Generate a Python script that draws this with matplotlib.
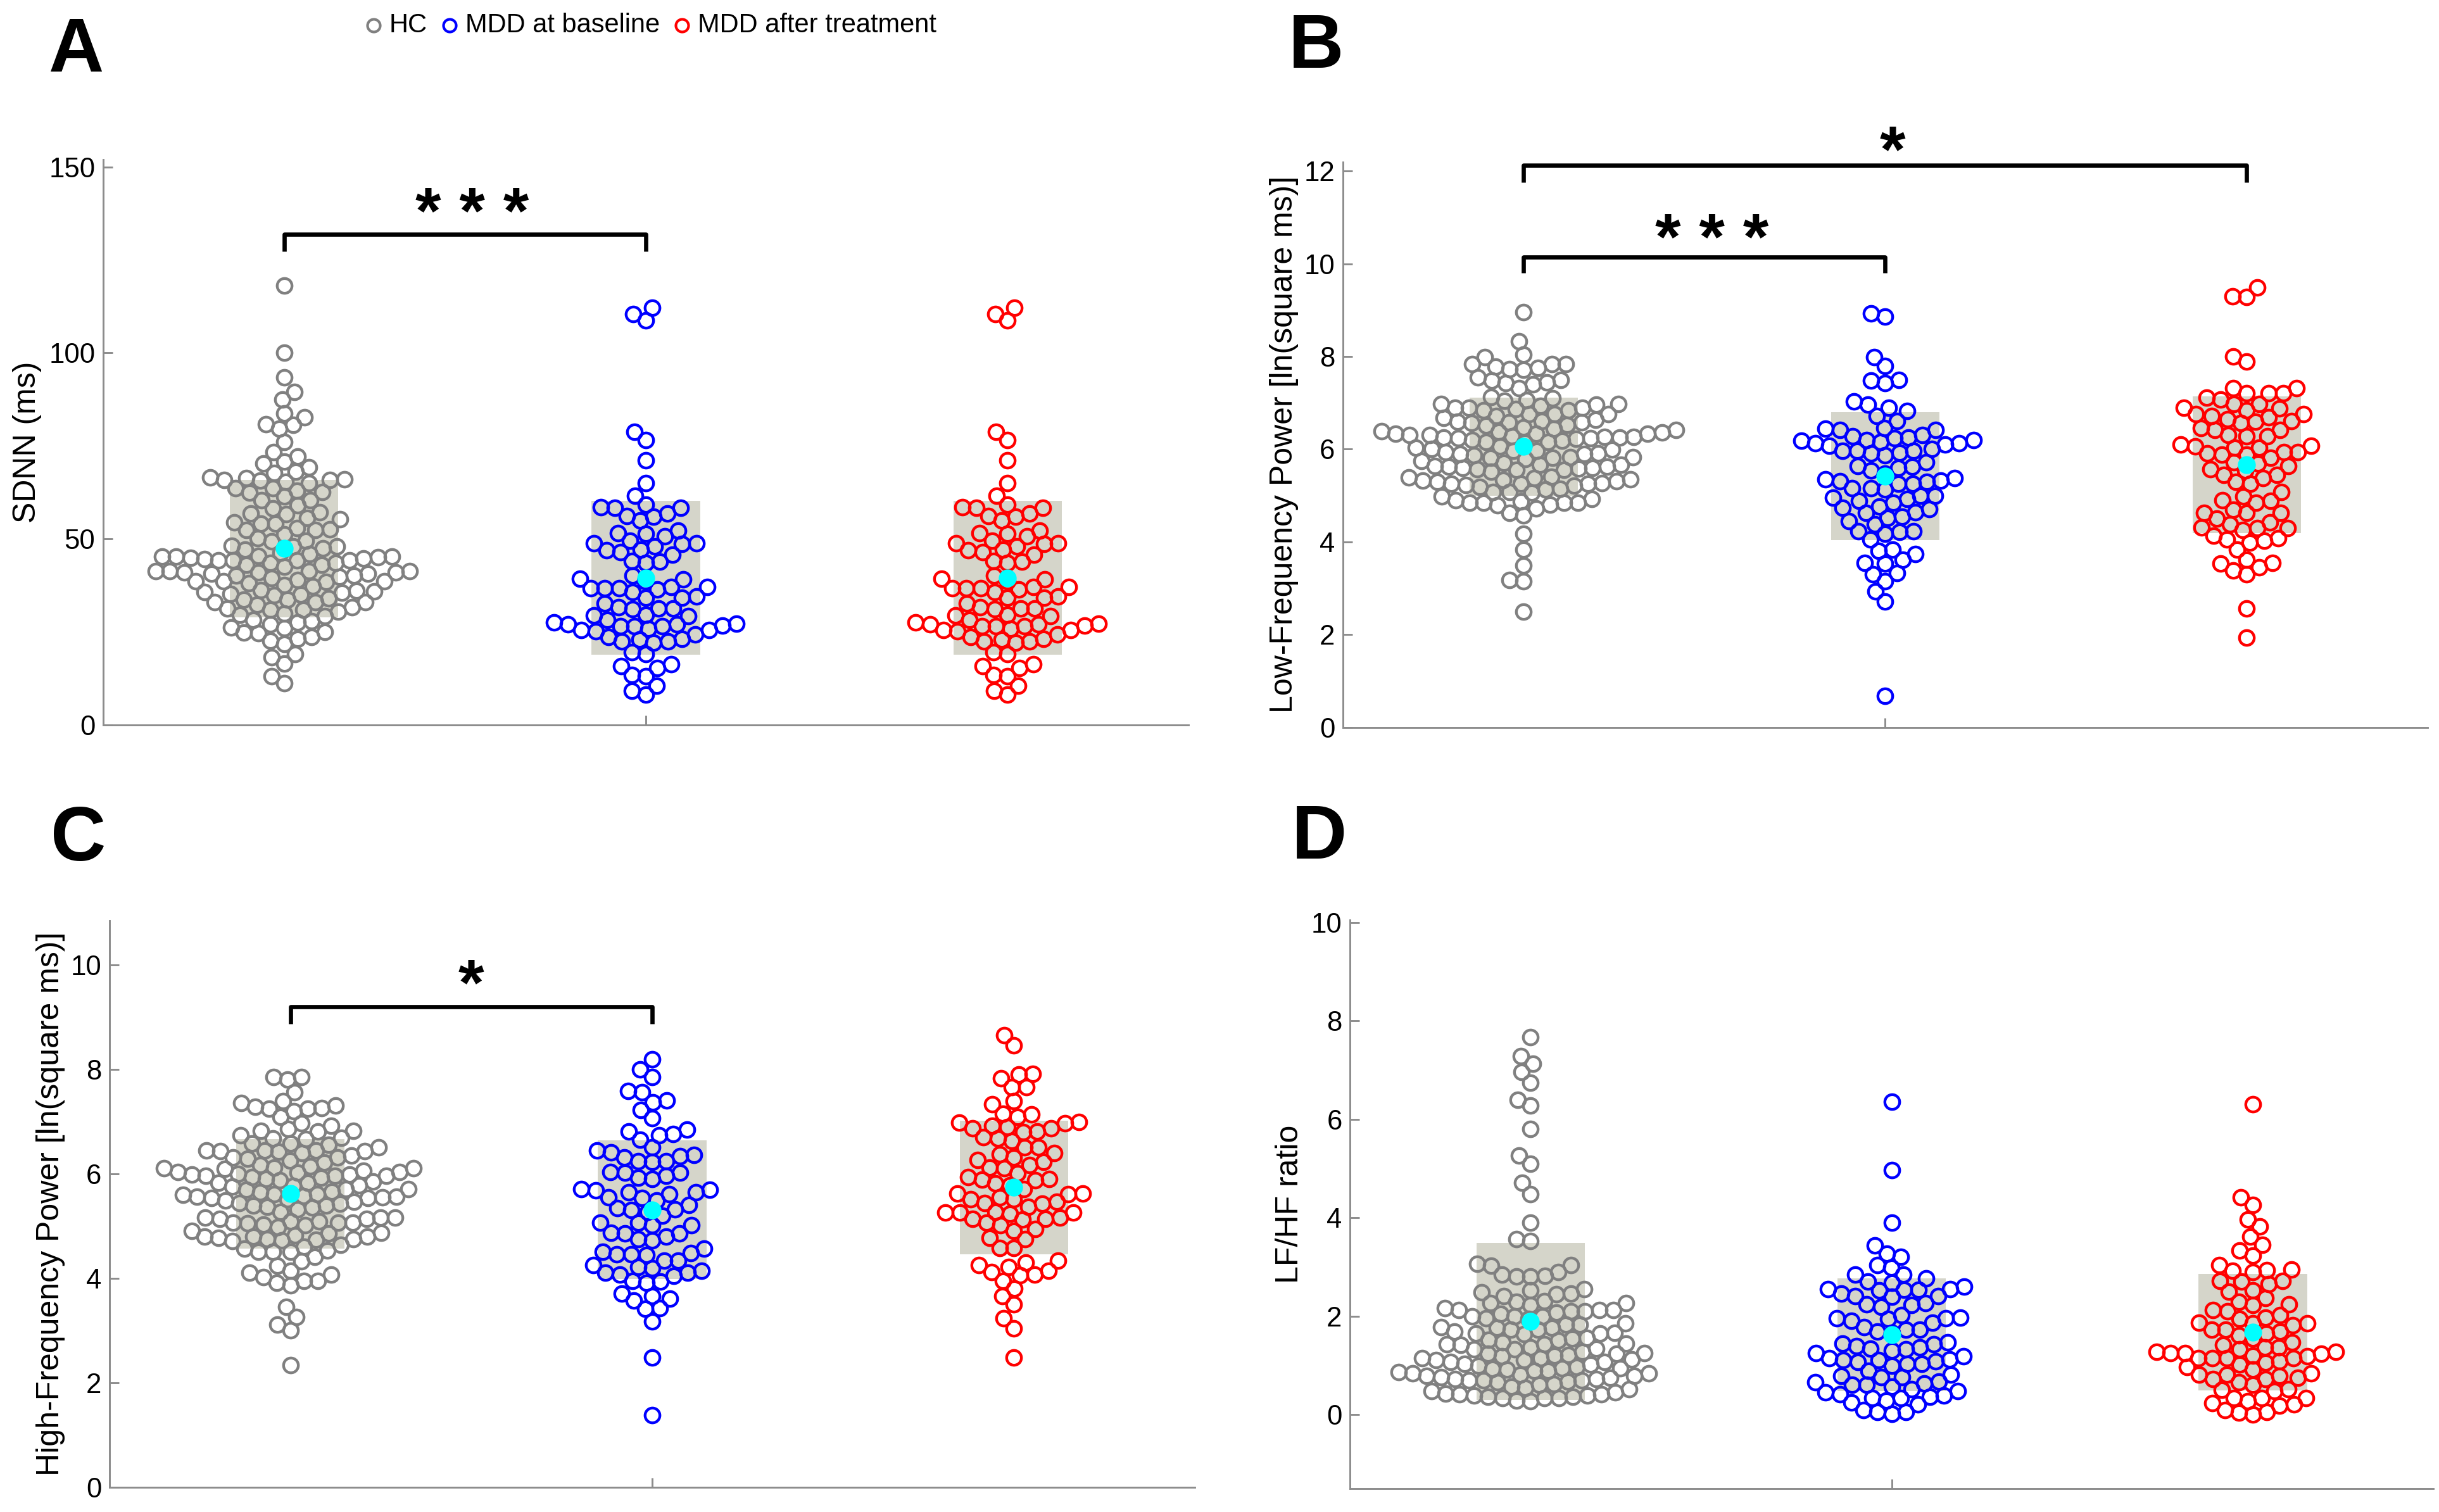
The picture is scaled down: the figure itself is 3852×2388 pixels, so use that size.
import numpy as np
import matplotlib
matplotlib.use("Agg")
import matplotlib.pyplot as plt
from matplotlib.lines import Line2D

plt.rcParams['font.family'] = ['Liberation Sans', 'DejaVu Sans']

# ---------------- data ----------------
group_names = ['HC', 'MDD at baseline', 'MDD after treatment']
group_colors = ['#808080', '#0000ff', '#ff0000']

sdnn_hc = [118.2, 100, 93.5, 89.5, 87.5, 83.7, 82.8, 80.9, 80.6, 79.6, 76.0, 73.3, 72.2, 70.8,
           70.3, 69.2, 68.1, 67.8, 66.5, 66.3, 66.1, 65.9, 65.9, 65.7, 65.4, 65.1, 63.7, 63.7,
           62.9, 62.7, 62.5, 61.4, 60.5, 60.5, 59.0, 58.2, 57.2, 56.9, 56.7, 55.6, 55.3, 54.5,
           54.2, 54.2, 52.9, 52.6, 52.5, 52.5, 51.2, 50.2, 49.6, 49.3, 48.2, 48.0, 48.0, 47.5,
           47.1, 46.3, 45.9, 45.5, 45.3, 45.3, 45.3, 45.1, 44.9, 44.7, 44.6, 44.3, 44.3, 44.3,
           44.3, 43.6, 43.5, 43.1, 43.1, 42.6, 41.4, 41.4, 41.4, 41.3, 41.0, 41.0, 41.0, 40.6,
           40.6, 40.2, 40.2, 39.8, 39.5, 39.0, 38.7, 38.7, 38.6, 38.4, 38.2, 37.7, 37.3, 36.3,
           36.1, 35.9, 35.7, 35.5, 35.3, 35.1, 34.9, 34.1, 33.7, 33.7, 33.0, 33.0, 33.0, 32.4,
           31.6, 31.4, 31.0, 31.0, 30.4, 30.0, 29.6, 29.2, 28.3, 27.9, 27.5, 27.1, 26.3, 26.1,
           25.1, 24.8, 24.7, 23.7, 23.2, 22.6, 21.8, 19.0, 18.3, 16.5, 13.1, 11.2]
sdnn_mdd_base = [112.1, 110.5, 108.7, 78.8, 76.6, 71.1, 65.1, 61.7, 59.2, 58.6, 58.3, 58.3, 56.9,
                 56.1, 56.0, 54.9, 52.3, 51.6, 51.4, 50.7, 49.6, 48.8, 48.8, 48.6, 48.0, 47.1,
                 46.9, 46.5, 45.8, 44.1, 43.9, 43.5, 40.2, 39.4, 39.2, 38.6, 37.1, 37.1, 36.8,
                 36.8, 36.7, 36.5, 35.7, 34.6, 34.3, 34.2, 32.6, 31.6, 31.4, 31.4, 31.2, 29.7,
                 29.4, 29.2, 28.3, 27.5, 27.3, 27.1, 27.0, 26.7, 26.6, 26.5, 26.5, 25.9, 25.6,
                 25.5, 25.2, 24.3, 23.7, 23.2, 22.9, 22.4, 22.4, 22.2, 19.6, 19.0, 16.3, 15.9,
                 15.3, 13.4, 13.1, 10.6, 9.2, 8.1]
# panel A shows the same SDNN distribution after treatment
sdnn_mdd_after = [112.1, 110.5, 108.7, 78.8, 76.6, 71.1, 65.1, 61.7, 59.2, 58.6, 58.3, 58.3, 56.9,
                  56.1, 56.0, 54.9, 52.3, 51.6, 51.4, 50.7, 49.6, 48.8, 48.8, 48.6, 48.0, 47.1,
                  46.9, 46.5, 45.8, 44.1, 43.9, 43.5, 40.2, 39.4, 39.2, 38.6, 37.1, 37.1, 36.8,
                  36.8, 36.7, 36.5, 35.7, 34.6, 34.3, 34.2, 32.6, 31.6, 31.4, 31.4, 31.2, 29.7,
                  29.4, 29.2, 28.3, 27.5, 27.3, 27.1, 27.0, 26.7, 26.6, 26.5, 26.5, 25.9, 25.6,
                  25.5, 25.2, 24.3, 23.7, 23.2, 22.9, 22.4, 22.4, 22.2, 19.6, 19.0, 16.3, 15.9,
                  15.3, 13.4, 13.1, 10.6, 9.2, 8.1]

lf_hc = [8.95, 8.33, 8.04, 7.98, 7.83, 7.83, 7.83, 7.78, 7.76, 7.73, 7.71, 7.55, 7.49, 7.48, 7.44,
         7.40, 7.42, 7.32, 7.13, 7.10, 7.06, 7.05, 6.98, 6.98, 6.96, 6.93, 6.90, 6.89, 6.89, 6.86,
         6.84, 6.84, 6.76, 6.75, 6.75, 6.72, 6.67, 6.64, 6.61, 6.59, 6.58, 6.58, 6.56, 6.53, 6.51,
         6.47, 6.44, 6.42, 6.39, 6.37, 6.36, 6.34, 6.34, 6.33, 6.31, 6.31, 6.28, 6.26, 6.26, 6.25,
         6.25, 6.24, 6.24, 6.22, 6.20, 6.18, 6.16, 6.16, 6.14, 6.06, 6.03, 6.00, 5.99, 5.97, 5.96,
         5.94, 5.91, 5.90, 5.89, 5.87, 5.83, 5.83, 5.82, 5.81, 5.79, 5.75, 5.71, 5.67, 5.66, 5.63,
         5.62, 5.62, 5.59, 5.59, 5.58, 5.57, 5.55, 5.55, 5.51, 5.41, 5.39, 5.38, 5.35, 5.34, 5.32,
         5.31, 5.29, 5.27, 5.26, 5.25, 5.25, 5.23, 5.21, 5.18, 5.15, 5.13, 5.08, 5.07, 5.06, 4.98,
         4.92, 4.90, 4.87, 4.85, 4.85, 4.85, 4.84, 4.81, 4.79, 4.72, 4.62, 4.57, 4.17, 3.83, 3.49,
         3.18, 3.15, 2.50]
lf_mdd_base = [8.93, 8.86, 7.98, 7.79, 7.48, 7.49, 7.43, 6.96, 7.03, 6.89, 6.82, 6.72, 6.61, 6.44,
               6.46, 6.42, 6.42, 6.30, 6.28, 6.25, 6.24, 6.20, 6.19, 6.18, 6.16, 6.13, 6.13, 6.10,
               6.08, 6.00, 5.97, 5.96, 5.96, 5.92, 5.91, 5.87, 5.72, 5.63, 5.62, 5.60, 5.54, 5.47,
               5.38, 5.35, 5.32, 5.31, 5.29, 5.26, 5.25, 5.16, 5.16, 5.13, 5.00, 5.00, 4.95, 4.92,
               4.89, 4.84, 4.76, 4.73, 4.71, 4.64, 4.62, 4.55, 4.51, 4.45, 4.38, 4.23, 4.23, 4.21,
               4.17, 4.05, 3.83, 3.80, 3.74, 3.61, 3.55, 3.53, 3.33, 3.30, 3.15, 2.93, 2.71, 0.68]
lf_mdd_after = [9.49, 9.28, 9.30, 8.00, 7.89, 7.32, 7.31, 7.21, 7.21, 7.21, 7.11, 7.07, 6.98, 6.98,
                6.90, 6.88, 6.84, 6.76, 6.75, 6.72, 6.69, 6.65, 6.60, 6.59, 6.56, 6.46, 6.42, 6.42,
                6.31, 6.28, 6.28, 6.10, 6.08, 6.06, 6.03, 6.03, 5.94, 5.94, 5.91, 5.88, 5.88, 5.82,
                5.72, 5.69, 5.63, 5.57, 5.54, 5.44, 5.44, 5.38, 5.29, 5.25, 5.08, 4.98, 4.90, 4.88,
                4.85, 4.70, 4.63, 4.62, 4.62, 4.50, 4.42, 4.38, 4.31, 4.30, 4.30, 4.26, 4.14, 4.08,
                4.05, 4.02, 3.99, 3.84, 3.61, 3.53, 3.55, 3.45, 3.38, 3.30, 2.56, 1.94]

hf_hc = [7.85, 7.80, 7.85, 7.56, 7.39, 7.35, 7.28, 7.26, 7.31, 7.24, 7.24, 7.20, 7.08, 6.96, 6.92,
         6.85, 6.82, 6.82, 6.81, 6.74, 6.69, 6.67, 6.66, 6.58, 6.58, 6.55, 6.51, 6.44, 6.44, 6.44,
         6.43, 6.43, 6.42, 6.40, 6.35, 6.31, 6.31, 6.28, 6.25, 6.21, 6.17, 6.14, 6.12, 6.10, 6.10,
         6.09, 6.05, 6.03, 6.03, 6.02, 6.00, 5.98, 5.98, 5.96, 5.96, 5.96, 5.94, 5.92, 5.90, 5.87,
         5.85, 5.83, 5.83, 5.78, 5.76, 5.75, 5.71, 5.71, 5.69, 5.66, 5.64, 5.61, 5.61, 5.60, 5.57,
         5.56, 5.56, 5.55, 5.54, 5.53, 5.51, 5.49, 5.46, 5.44, 5.42, 5.39, 5.39, 5.37, 5.35, 5.32,
         5.27, 5.16, 5.16, 5.16, 5.13, 5.13, 5.08, 5.08, 5.06, 5.06, 5.06, 5.05, 5.03, 5.01, 4.98,
         4.91, 4.87, 4.86, 4.82, 4.80, 4.79, 4.79, 4.77, 4.75, 4.75, 4.73, 4.72, 4.71, 4.64, 4.60,
         4.57, 4.53, 4.51, 4.50, 4.50, 4.41, 4.32, 4.24, 4.14, 4.07, 4.10, 4.02, 3.95, 3.95, 3.91,
         3.86, 3.45, 3.25, 3.11, 3.00, 2.33]
hf_mdd_base = [8.19, 8.00, 7.85, 7.56, 7.58, 7.40, 7.37, 7.22, 7.06, 6.84, 6.81, 6.76, 6.74, 6.65,
               6.50, 6.44, 6.41, 6.36, 6.33, 6.31, 6.24, 6.24, 6.22, 6.03, 6.02, 6.02, 5.96, 5.92,
               5.90, 5.71, 5.69, 5.68, 5.64, 5.64, 5.61, 5.55, 5.54, 5.49, 5.40, 5.34, 5.32, 5.30,
               5.27, 5.20, 5.06, 5.06, 5.01, 5.01, 4.87, 4.86, 4.86, 4.80, 4.75, 4.72, 4.57, 4.51,
               4.48, 4.45, 4.45, 4.44, 4.34, 4.34, 4.25, 4.21, 4.19, 4.14, 4.10, 4.10, 4.07, 4.04,
               3.95, 3.93, 3.91, 3.71, 3.66, 3.61, 3.57, 3.42, 3.41, 3.17, 2.48, 1.38]
hf_mdd_after = [8.65, 8.45, 7.91, 7.90, 7.83, 7.66, 7.66, 7.39, 7.33, 7.15, 7.13, 7.08, 6.99, 6.98,
                6.96, 6.92, 6.89, 6.87, 6.87, 6.81, 6.79, 6.70, 6.67, 6.63, 6.51, 6.50, 6.40, 6.37,
                6.31, 6.26, 6.22, 6.16, 6.12, 6.10, 6.01, 5.94, 5.90, 5.88, 5.87, 5.81, 5.78, 5.71,
                5.62, 5.62, 5.61, 5.55, 5.51, 5.51, 5.46, 5.44, 5.42, 5.37, 5.27, 5.25, 5.25, 5.25,
                5.23, 5.16, 5.14, 5.13, 5.12, 5.06, 5.01, 4.94, 4.91, 4.77, 4.75, 4.58, 4.58, 4.34,
                4.30, 4.25, 4.21, 4.14, 4.12, 4.07, 4.05, 3.95, 3.80, 3.66, 3.50, 3.23, 3.04, 2.48]

ratio_hc = [7.67, 7.29, 7.13, 6.96, 6.74, 6.40, 6.28, 5.81, 5.26, 5.09, 4.71, 4.48, 3.90, 3.52, 3.56,
            3.04, 3.03, 3.06, 2.90, 2.82, 2.81, 2.81, 2.84, 2.55, 2.52, 2.48, 2.45, 2.41, 2.46, 2.30,
            2.29, 2.26, 2.26, 2.23, 2.16, 2.12, 2.12, 2.12, 2.10, 2.10, 2.07, 2.05, 2.00, 2.00, 2.00,
            1.95, 1.94, 1.85, 1.83, 1.83, 1.78, 1.76, 1.76, 1.72, 1.72, 1.68, 1.66, 1.65, 1.65, 1.63,
            1.56, 1.54, 1.52, 1.50, 1.47, 1.44, 1.43, 1.43, 1.42, 1.37, 1.34, 1.32, 1.32, 1.27, 1.25,
            1.23, 1.23, 1.21, 1.20, 1.18, 1.15, 1.14, 1.12, 1.10, 1.10, 1.07, 1.07, 1.03, 1.01, 0.99,
            0.96, 0.94, 0.94, 0.92, 0.91, 0.89, 0.89, 0.86, 0.83, 0.83, 0.81, 0.79, 0.78, 0.76, 0.74,
            0.72, 0.72, 0.70, 0.69, 0.69, 0.67, 0.65, 0.62, 0.60, 0.57, 0.54, 0.52, 0.47, 0.45, 0.43,
            0.41, 0.41, 0.38, 0.38, 0.36, 0.36, 0.34, 0.34, 0.33, 0.28, 0.27]
ratio_mdd_base = [6.36, 4.97, 3.90, 3.43, 3.27, 3.21, 3.04, 2.99, 2.84, 2.84, 2.77, 2.70, 2.68, 2.60,
                  2.55, 2.55, 2.53, 2.53, 2.52, 2.46, 2.41, 2.41, 2.39, 2.26, 2.24, 2.23, 2.19, 2.02,
                  1.97, 1.95, 1.95, 1.94, 1.90, 1.87, 1.78, 1.73, 1.72, 1.68, 1.66, 1.47, 1.44, 1.43,
                  1.39, 1.36, 1.32, 1.34, 1.30, 1.25, 1.18, 1.14, 1.12, 1.10, 1.10, 1.08, 1.07, 1.03,
                  1.03, 0.99, 0.89, 0.81, 0.79, 0.76, 0.76, 0.67, 0.65, 0.63, 0.60, 0.60, 0.56, 0.52,
                  0.47, 0.45, 0.41, 0.39, 0.36, 0.34, 0.33, 0.28, 0.25, 0.20, 0.09, 0.05, 0.05, 0.01]
ratio_mdd_after = [6.31, 4.42, 4.26, 3.97, 3.82, 3.61, 3.45, 3.33, 3.23, 3.04, 2.95, 2.92, 2.94, 2.90,
                   2.72, 2.70, 2.72, 2.65, 2.52, 2.50, 2.37, 2.29, 2.24, 2.23, 2.12, 2.10, 2.02, 1.97,
                   1.94, 1.87, 1.85, 1.85, 1.81, 1.73, 1.72, 1.68, 1.65, 1.61, 1.54, 1.47, 1.42, 1.37,
                   1.36, 1.32, 1.28, 1.27, 1.25, 1.25, 1.23, 1.20, 1.18, 1.15, 1.15, 1.15, 1.14, 1.08,
                   1.05, 1.01, 0.96, 0.91, 0.83, 0.81, 0.81, 0.79, 0.74, 0.72, 0.72, 0.65, 0.60, 0.52,
                   0.50, 0.47, 0.34, 0.34, 0.34, 0.27, 0.23, 0.20, 0.18, 0.09, 0.05, 0.04, 0.00]

panel_letters = ['A', 'B', 'C', 'D']
panel_ylabels = ['SDNN (ms)', 'Low-Frequency Power [ln(square ms)]',
                 'High-Frequency Power [ln(square ms)]', 'LF/HF ratio']
panel_data = [[sdnn_hc, sdnn_mdd_base, sdnn_mdd_after],
              [lf_hc, lf_mdd_base, lf_mdd_after],
              [hf_hc, hf_mdd_base, hf_mdd_after],
              [ratio_hc, ratio_mdd_base, ratio_mdd_after]]
panel_yticks = [[0, 50, 100, 150], [0, 2, 4, 6, 8, 10, 12], [0, 2, 4, 6, 8, 10], [0, 2, 4, 6, 8, 10]]
# significance comparisons: (group a, group b, stars)
panel_sig = [[(1, 2, '* * *')],
             [(1, 3, '*'), (1, 2, '* * *')],
             [(1, 2, '*')],
             []]

# ---------------- layout / style ----------------
DPI = 300
fig = plt.figure(figsize=(3852 / DPI, 2388 / DPI), dpi=DPI)

rects = [[0.0423, 0.5205, 0.4450, 0.3740],
         [0.5506, 0.5190, 0.4447, 0.3740],
         [0.0449, 0.0165, 0.4450, 0.3745],
         [0.5535, 0.0157, 0.4442, 0.3758]]
ylims = [(0, 152), (0, 12.2), (0, 10.84), (-1.5, 10.05)]
label_x = [-0.070, -0.054, -0.054, -0.0555]
letter_pos = [(0.020, 0.9527), (0.5283, 0.955), (0.0208, 0.431), (0.5296, 0.432)]
# bracket heights (y of bar, y of leg ends, y of star centre, x of star centre)
sig_geom = [[(131.9, 127.3, 141.0, 1.52)],
            [(12.12, 11.76, 12.70, 2.02), (10.15, 9.80, 10.80, 1.52)],
            [(9.20, 8.87, 9.86, 1.50)],
            []]

spine_gray = '#8c8c8c'
box_color = '#d5d5ca'
MS = 5.6
MEW = 1.05
D_PX = 22.5   # minimum centre distance between swarm markers, in pixels
STAR_FS = 25


def swarm_offsets(ax, xc, vals, d):
    vals = np.asarray(vals, float)
    tr = ax.transData
    ypx = tr.transform(np.column_stack([np.full(len(vals), xc), vals]))[:, 1]
    ppu = tr.transform([[xc + 1, 0]])[0, 0] - tr.transform([[xc, 0]])[0, 0]
    order = np.argsort(ypx, kind='stable')
    px, py = [], []
    xs = np.zeros(len(vals))
    for i in order:
        y = ypx[i]
        near = [(a, b) for a, b in zip(px, py) if abs(b - y) < d]
        cands = [0.0]
        for a, b in near:
            dx = np.sqrt(d * d - (b - y) ** 2)
            cands += [a + dx, a - dx]
        cands = sorted(cands, key=lambda c: (abs(c), c))
        chosen = cands[-1]
        for c in cands:
            if all((c - a) ** 2 + (y - b) ** 2 >= d * d - 1e-6 for a, b in near):
                chosen = c
                break
        xs[i] = chosen
        px.append(chosen)
        py.append(y)
    return xc + xs / ppu


for k in range(4):
    ax = fig.add_axes(rects[k])
    ax.set_xlim(0.5, 3.5)
    ax.set_ylim(*ylims[k])
    ax.set_yticks(panel_yticks[k])
    ax.set_xticks([2])
    ax.set_xticklabels([''])
    for s in ['top', 'right']:
        ax.spines[s].set_visible(False)
    for s in ['left', 'bottom']:
        ax.spines[s].set_color(spine_gray)
        ax.spines[s].set_linewidth(0.7)
    ax.tick_params(axis='both', direction='in', length=3.6, width=0.7, color=spine_gray,
                   labelsize=10.5, labelcolor='black', pad=3)
    ax.set_ylabel(panel_ylabels[k], fontsize=12, va='center')
    ax.yaxis.set_label_coords(label_x[k], 0.5)

    for g, vals in enumerate(panel_data[k]):
        xc = g + 1
        v = np.asarray(vals, float)
        m, sd = v.mean(), v.std(ddof=1)
        ax.add_patch(plt.Rectangle((xc - 0.15, m - sd), 0.30, 2 * sd, facecolor=box_color,
                                   edgecolor='none', zorder=1))
        xs = swarm_offsets(ax, xc, v, D_PX)
        ax.plot(xs, v, linestyle='none', marker='o', markersize=MS, markerfacecolor='none',
                markeredgecolor=group_colors[g], markeredgewidth=MEW, zorder=2)
        ax.plot([xc], [m], linestyle='none', marker='o', markersize=6.8, markerfacecolor='#00ffff',
                markeredgecolor='none', zorder=3)

    for (ga, gb, stars), (yb, yl, ys, xs_) in zip(panel_sig[k], sig_geom[k]):
        ax.plot([ga, ga, gb, gb], [yl, yb, yb, yl], color='black', lw=1.6, clip_on=False,
                solid_capstyle='butt', zorder=4)
        ax.annotate(stars, xy=(xs_, ys), xytext=(0, -0.50 * STAR_FS), textcoords='offset points',
                    ha='center', va='baseline', fontsize=STAR_FS, fontweight='bold',
                    annotation_clip=False)

    fig.text(letter_pos[k][0], letter_pos[k][1], panel_letters[k], fontsize=29, fontweight='bold',
             ha='left', va='baseline')

# legend at top
leg_marker_x = [590 / 3852, 710 / 3852, 1077 / 3852]
leg_y = 1 - 40 / 2388
for g in range(3):
    fig.add_artist(Line2D([leg_marker_x[g]], [leg_y], transform=fig.transFigure, marker='o',
                          markersize=4.8, markerfacecolor='none', markeredgecolor=group_colors[g],
                          markeredgewidth=1.0, linestyle='none'))
    fig.text(leg_marker_x[g] + 25 / 3852, leg_y, group_names[g], fontsize=10, ha='left', va='center')

fig.savefig('out.png', dpi=DPI)
